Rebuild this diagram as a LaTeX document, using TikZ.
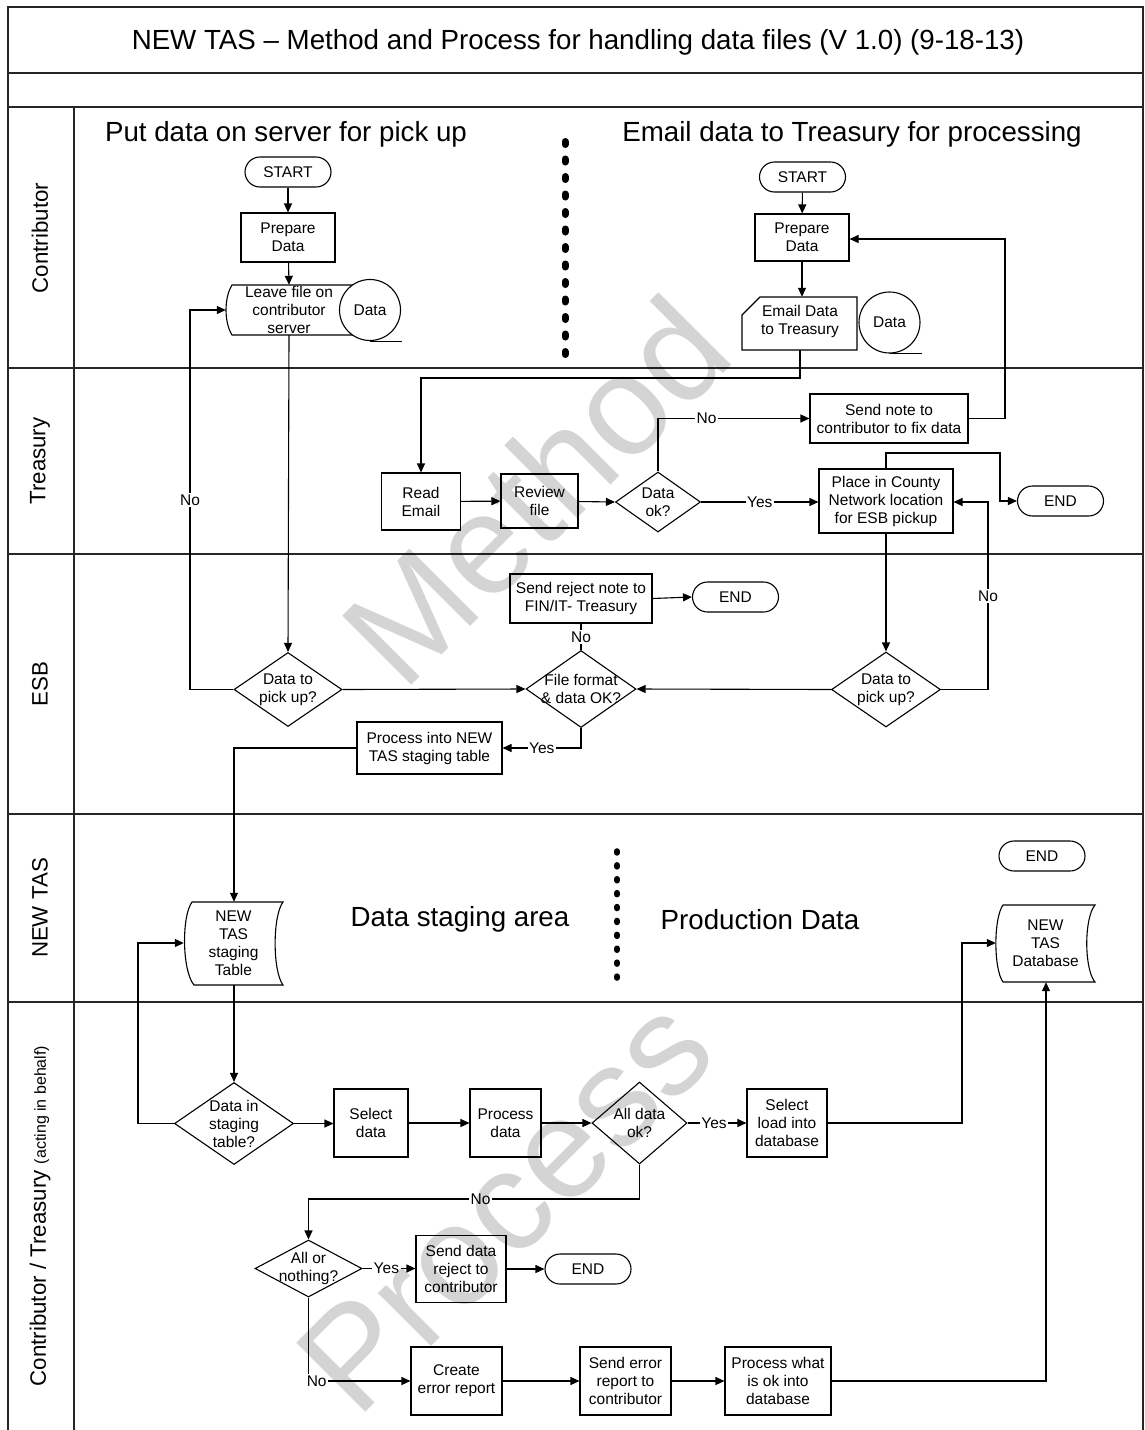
\documentclass[tikz,border=0pt]{standalone}
\usepackage{fontspec}
\setmainfont{Liberation Sans}
\usetikzlibrary{arrows.meta,shapes.geometric}
\tikzset{
  bfont/.style={font=\fontsize{15.5}{18}\selectfont},
  box/.style={draw, line width=1.1pt, align=center, inner sep=0pt, bfont},
  term/.style={box, rounded corners=15pt, minimum width=86pt, minimum height=30pt},
  dia/.style={draw, diamond, line width=1.1pt, inner sep=0pt},
  ghost/.style={draw=none, inner sep=0pt, align=center, bfont},
  txt/.style={align=center, inner sep=0pt, bfont},
  shp/.style={line width=1.1pt},
  con/.style={line width=1.1pt},
  arr/.style={line width=1.1pt, -{Triangle[length=9pt,width=8pt]}},
  lbl/.style={fill=white, inner sep=1.5pt, bfont},
  lane/.style={line width=1.6pt, black!85},
  lanetxt/.style={rotate=90, inner sep=0pt, font=\fontsize{22.3}{26}\selectfont},
  head/.style={inner sep=0pt, font=\fontsize{27.7}{32}\selectfont},
  dotsA/.style={line width=7pt, dash pattern=on 3pt off 14.5pt, line cap=round},
  dotsB/.style={line width=6pt, dash pattern=on 1.5pt off 12.4pt, line cap=round},
  wm/.style={inner sep=0pt, font=\fontsize{142}{150}\selectfont, text=black, text opacity=0.17, rotate=45}
}
\begin{document}
\begin{tikzpicture}[x=1pt,y=-1pt]
\useasboundingbox (0,0) rectangle (1144,1430);
% frame and lanes
\draw[lane] (8,1430) -- (8,7) -- (1143,7) -- (1143,1430);
\foreach \yy in {73,107,368,554,814,1002} \draw[lane] (8,\yy) -- (1143,\yy);
\draw[lane] (74,107) -- (74,1430);
\node[head] (title) at (578,42) {NEW TAS -- Method and Process for handling data files (V 1.0) (9-18-13)};
\node[lanetxt] (l1) at (40,238) {Contributor};
\node[lanetxt] (l2) at (40,461) {Treasury};
\node[lanetxt] (l3) at (40,684) {ESB};
\node[lanetxt] (l4) at (40,908) {NEW TAS};
\node[lanetxt] (l5) at (40,1216) {Contributor / Treasury {\fontsize{16}{18}\selectfont (acting in behalf)}};
% headings
\node[head] (h1) at (286,134.5) {Put data on server for pick up};
\node[head] (h2) at (852,134.5) {Email data to Treasury for processing};
\node[head] (h3) at (460,919.5) {Data staging area};
\node[head] (h4) at (760,919.5) {Production Data};
\coordinate (dA1) at (565,141.5);
\coordinate (dA2) at (565,355);
\coordinate (dB1) at (617,851.2);
\coordinate (dB2) at (617,980);
\draw[dotsA] (dA1) -- (dA2);
\draw[dotsB] (dB1) -- (dB2);

% ---------- Contributor lane, left
\node[term] (startL) at (288,172) {START};
\node[box, minimum width=94pt, minimum height=49pt] (prepL) at (288,237.5) {Prepare\\Data};
\draw[shp] (232,285) -- (352,285) .. controls (344,298) and (344,322) .. (352,335) -- (232,335) .. controls (224,322) and (224,298) .. (232,285) -- cycle;
\node[ghost, minimum width=126pt, minimum height=50pt] (leave) at (289,310) {Leave file on\\contributor\\server};
\node[circle, draw, line width=1.1pt, fill=white, minimum size=61pt, inner sep=0pt, bfont] (dataL) at (370,310) {Data};
\draw[shp] (dataL.south) -- ++(32,0);
% ---------- Contributor lane, right
\node[term] (startR) at (802.5,177) {START};
\node[box, minimum width=94pt, minimum height=47pt] (prepR) at (802,237.5) {Prepare\\Data};
\draw[shp] (760,297) -- (857,297) -- (857,350) -- (742,350) -- (742,315) -- cycle;
\node[ghost, minimum width=115pt, minimum height=53pt] (email) at (800,323.5) {};
\node[txt] (emailt) at (800,321) {Email Data\\to Treasury};
\node[circle, draw, line width=1.1pt, fill=white, minimum size=61pt, inner sep=0pt, bfont] (dataR) at (889.5,322.5) {Data};
\draw[shp] (dataR.south) -- ++(32,0);

% ---------- Treasury lane
\node[box, minimum width=79pt, minimum height=57pt] (readE) at (421,501.5) {Read\\Email};
\node[box, minimum width=77pt, minimum height=54pt] (rev) at (539.5,501) {Review\\file};
\node[dia, minimum width=85pt, minimum height=60pt] (dok) at (658,502) {};
\node[txt] (dokt) at (dok) {Data\\ok?};
\node[box, minimum width=158pt, minimum height=49pt] (snote) at (889,418.5) {Send note to\\contributor to fix data};
\node[box, minimum width=134pt, minimum height=64pt] (place) at (886,501) {Place in County\\Network location\\for ESB pickup};
\node[term] (endT) at (1060.5,501) {END};

% ---------- ESB lane
\node[box, minimum width=142pt, minimum height=49pt] (rej) at (581,598.5) {Send reject note to\\FIN/IT- Treasury};
\node[term] (endE) at (735.5,597) {END};
\node[dia, minimum width=108pt, minimum height=74pt] (dtp1) at (288,689.5) {};
\node[txt] (dtp1t) at (dtp1) {Data to\\pick up?};
\node[dia, minimum width=110pt, minimum height=77pt] (ffd) at (581,689) {};
\node[txt] (ffdt) at (ffd) {File format\\\& data OK?};
\node[dia, minimum width=109pt, minimum height=75pt] (dtp2) at (886,689.5) {};
\node[txt] (dtp2t) at (dtp2) {Data to\\pick up?};
\node[box, minimum width=145pt, minimum height=52pt] (proc) at (429.5,748) {Process into NEW\\TAS staging table};

% ---------- NEW TAS lane
\draw[shp] (192,902) -- (283,902) .. controls (272.5,916) and (272.5,971) .. (283,985) -- (194,985) .. controls (182,971) and (181.5,916) .. (192,902) -- cycle;
\node[ghost, minimum width=99pt, minimum height=83pt] (stg) at (233.5,943.5) {NEW\\TAS\\staging\\Table};
\node[term] (endN) at (1042,856) {END};
\draw[shp] (1003,905) -- (1095,905) .. controls (1084,918) and (1084,969) .. (1095,982) -- (1003,982) .. controls (993.5,969) and (993.5,918) .. (1003,905) -- cycle;
\node[ghost, minimum width=99pt, minimum height=77pt] (db) at (1045.5,943.5) {NEW\\TAS\\Database};

% ---------- Contributor / Treasury lane
\node[dia, minimum width=119pt, minimum height=82pt] (dis) at (234,1123.5) {};
\node[txt] (dist) at (dis) {Data in\\staging\\table?};
\node[box, minimum width=74pt, minimum height=68pt] (sel) at (371,1123) {Select\\data};
\node[box, minimum width=71pt, minimum height=68pt] (procd) at (505.5,1123) {Process\\data};
\node[dia, minimum width=95pt, minimum height=82pt] (alld) at (639.5,1123) {};
\node[txt] (alldt) at (alld) {All data\\ok?};
\node[box, minimum width=80pt, minimum height=68pt] (sell) at (787,1123) {Select\\load into\\database};
\node[dia, minimum width=107pt, minimum height=57pt] (aon) at (308.5,1268.5) {};
\node[txt] (aont) at (aon) {All or\\nothing?};
\node[box, minimum width=90pt, minimum height=67pt] (sdr) at (461,1269) {Send data\\reject to\\contributor};
\node[term] (endB) at (588,1269) {END};
\node[box, minimum width=91pt, minimum height=68pt] (cer) at (456.5,1381) {Create\\error report};
\node[box, minimum width=91pt, minimum height=68pt] (ser) at (625.5,1381) {Send error\\report to\\contributor};
\node[box, minimum width=106pt, minimum height=68pt] (pwo) at (778,1381) {Process what\\is ok into\\database};

% ---------- connectors
\draw[arr] (startL) -- (prepL);
\draw[arr] (prepL) -- (leave.north);
\draw[arr] (leave.south) -- (dtp1.north);
\draw[arr] (dtp1.west) -- (190,689.5) -- node[lbl]{No} (190,310) -- (leave.west);
\draw[arr] (dtp1.east) -- (ffd.west);
\draw[con] (ffd.north) -- node[lbl]{No} (rej.south);
\draw[arr] (rej.east) -- (endE.west);
\draw[arr] (dtp2.west) -- (ffd.east);
\draw[arr] (place.south) -- (dtp2.north);
\draw[arr] (dtp2.east) -- (988,689.5) -- node[lbl]{No} (988,502) -- (place.east |- 0,502);
\draw[arr] (ffd.south) -- (581,748) -- node[lbl]{Yes} (proc.east);
\draw[arr] (proc.west) -- (234,748) -- (stg.north -| 234,0);

\draw[arr] (startR) -- (prepR);
\draw[arr] (prepR.south) -- (prepR.south |- email.north);
\draw[arr] (email.south) -- (800,378) -- (421,378) -- (readE.north);
\draw[arr] (readE) -- (rev);
\draw[arr] (rev) -- (dok.west);
\draw[arr] (dok.north) -- (658,418.5) -- node[lbl, pos=0.32]{No} (snote.west);
\draw[arr] (snote.east) -- (1005,418.5) -- (1005,239) -- (prepR.east |- 0,239);
\draw[arr] (dok.east) -- node[lbl, pos=0.5]{Yes} (place.west |- dok.east);
\draw[arr] (place.north) -- (886,453) -- (1000,453) -- (1000,501) -- (endT.west);

\draw[arr] (stg.south -| 234,0) -- (dis.north);
\draw[arr] (dis.west) -- (138,1123.5) -- (138,943) -- (stg.west |- 0,943);
\draw[arr] (dis.east) -- (sel.west |- dis.east);
\draw[arr] (sel) -- (procd);
\draw[arr] (procd) -- (alld.west |- procd.east);
\draw[arr] (alld.east) -- node[lbl, pos=0.45]{Yes} (sell.west |- alld.east);
\draw[arr] (sell.east) -- (962,1123) -- (962,943) -- (db.west |- 0,943);
\draw[arr] (alld.south) -- (639.5,1199) -- node[lbl, pos=0.48]{No} (308.5,1199) -- (aon.north);
\draw[arr] (aon.east) -- node[lbl, pos=0.45]{Yes} (sdr.west |- aon.east);
\draw[arr] (sdr.east) -- (endB.west);
\draw[arr] (aon.south) -- (308.5,1381) -- node[lbl, pos=0.08]{No} (cer.west);
\draw[arr] (cer) -- (ser);
\draw[arr] (ser) -- (pwo);
\draw[arr] (pwo.east) -- (1046,1381) -- (db.south -| 1046,0);

% ---------- watermarks
\node[wm] (wm1) at (535,490) {Method};
\node[wm] (wm2) at (505,1205) {Process};
\end{tikzpicture}
\end{document}
